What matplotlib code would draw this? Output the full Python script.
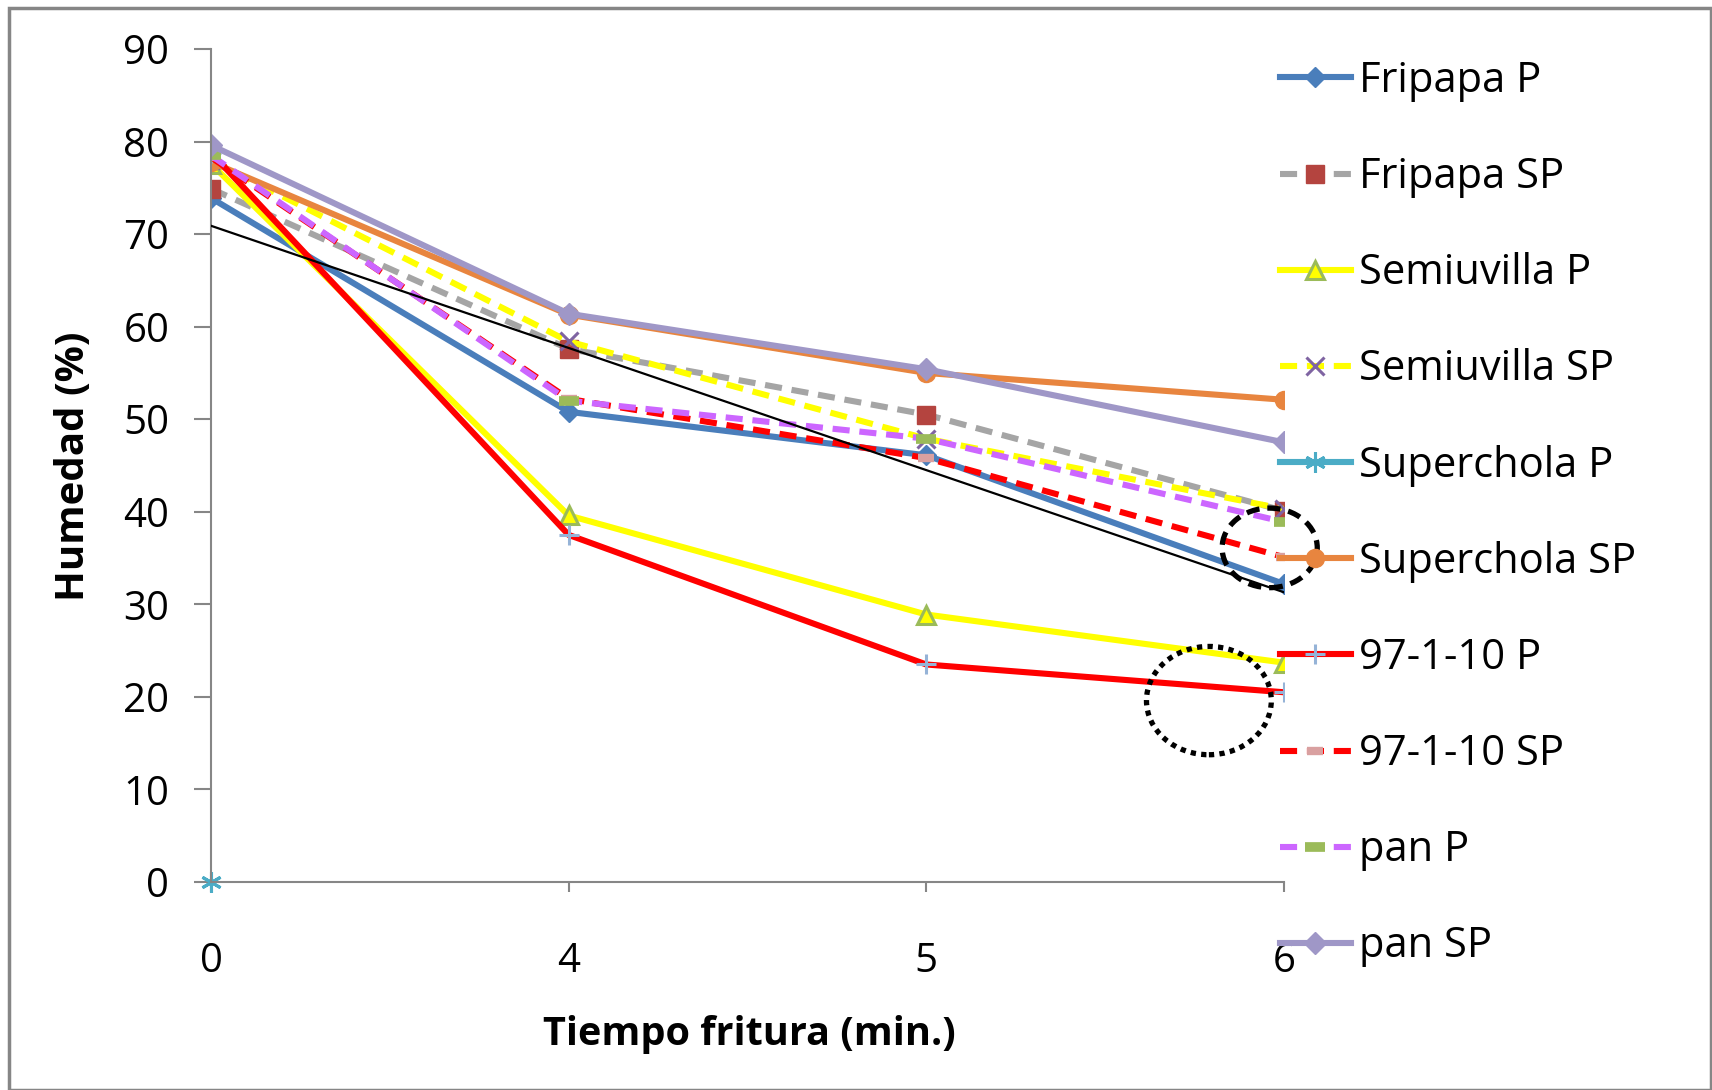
import numpy as np
import matplotlib
matplotlib.use("Agg")
import matplotlib.pyplot as plt
from matplotlib.patches import Ellipse, Rectangle

# Data
categories = ["0", "4", "5", "6"]
fripapa_p = [73.9, 50.8, 46.1, 32.2]
fripapa_sp = [74.9, 57.6, 50.5, 40.1]
semiuvilla_p = [77.6, 39.6, 28.9, 23.7]
semiuvilla_sp = [78.0, 58.4, 47.9, 40.3]
superchola_p = [0.0, np.nan, np.nan, np.nan]
superchola_sp = [77.8, 61.3, 55.0, 52.1]
p97_p = [78.8, 37.5, 23.5, 20.5]
p97_sp = [78.3, 52.2, 45.8, 35.1]
pan_p = [78.5, 52.0, 47.9, 38.9]
pan_sp = [79.6, 61.4, 55.4, 47.5]
trend_y = [70.9, 31.3]  # linear trend line drawn over Fripapa P

plt.rcParams['font.family'] = ['Open Sans', 'DejaVu Sans']

fig = plt.figure(figsize=(17.12, 10.9), dpi=100)
ax = fig.add_axes([211/1712, 1 - 882/1090, 1073/1712, 833/1090])

x = np.arange(len(categories))
lw = 4.4
dash = (2.8, 1.6)

ax.plot(x, fripapa_p, color='#4A7EBB', lw=lw, marker='D', ms=10,
        mfc='#4A7EBB', mec='#4A7EBB', label='Fripapa P')
ax.plot(x, fripapa_sp, color='#A5A5A5', lw=lw, dashes=dash, marker='s', ms=13,
        mfc='#B4443F', mec='#B4443F', label='Fripapa SP')
ax.plot(x, semiuvilla_p, color='#FFFF00', lw=lw, marker='^', ms=13,
        mfc='#FFFF00', mec='#9BBB59', mew=2.2, label='Semiuvilla P')
ax.plot(x, semiuvilla_sp, color='#FFFF00', lw=lw, dashes=dash, marker='x', ms=13,
        mec='#7F64A2', mew=2.2, label='Semiuvilla SP')
ax.plot(x, superchola_p, color='#4BACC6', lw=lw, marker=(6, 2, 0), ms=15,
        mec='#4BACC6', mew=2.2, label='Superchola P', clip_on=False)
ax.plot(x, superchola_sp, color='#E8853F', lw=lw, marker='o', ms=13,
        mfc='#E8853F', mec='#E8853F', label='Superchola SP')
ax.plot(x, p97_p, color='#FF0000', lw=lw, marker='+', ms=15,
        mec='#95B3D7', mew=2.2, label='97-1-10 P')
ax.plot(x, p97_sp, color='#FF0000', lw=lw, dashes=dash, marker='_', ms=12,
        mec='#D9A0A0', mew=6, label='97-1-10 SP')
ax.plot(x, pan_p, color='#CC66FF', lw=lw, dashes=dash, marker='_', ms=15,
        mec='#9BBB59', mew=7, label='pan P')
ax.plot(x, pan_sp, color='#9F97C7', lw=lw, marker='D', ms=11,
        mfc='#9F97C7', mec='#9F97C7', label='pan SP')

# Trend line
ax.plot([x[0], x[-1]], trend_y, color='black', lw=1.6, zorder=5)

# Highlight ellipses
ax.add_patch(Ellipse((2.96, 36.1), 0.266, 8.6, fill=False, ec='black', lw=3.8,
                     ls=(0, (2.5, 1.5)), zorder=6, clip_on=False))
ax.add_patch(Ellipse((2.79, 19.6), 0.349, 11.7, fill=False, ec='black', lw=3.8,
                     ls=(0, (1, 1)), zorder=6, clip_on=False))

ax.set_xlim(0, 3)
ax.set_ylim(0, 90)
ax.set_yticks(np.arange(0, 91, 10))
ax.set_xticks(x)
ax.set_xticklabels(categories)

for s in ['top', 'right']:
    ax.spines[s].set_visible(False)
for s in ['left', 'bottom']:
    ax.spines[s].set_color('#868686')
    ax.spines[s].set_linewidth(1.5)
ax.tick_params(axis='y', direction='out', length=12, width=1.5, color='#868686',
               labelsize=29, pad=18)
ax.tick_params(axis='x', direction='out', length=7, width=1.5, color='#868686',
               labelsize=29, pad=36)

fig.text(74/1712, 1 - 466/1090, 'Humedad (%)', rotation=90, ha='center', va='center',
         fontsize=29, fontweight='bold')
fig.text(749/1712, 1 - 1034/1090, 'Tiempo fritura (min.)', ha='center', va='center',
         fontsize=28.5, fontweight='bold')

fig.legend(loc='upper left', bbox_to_anchor=(1280/1712, 1 - 60/1090), frameon=False,
           fontsize=30, handlelength=1.7, handletextpad=0.2, labelspacing=1.3,
           borderpad=0, borderaxespad=0, numpoints=1)

# Outer chart border
fig.patches.append(Rectangle((9/1712, 0), 1 - 10/1712, 1 - 8/1090, transform=fig.transFigure,
                             fill=False, ec='#868686', lw=2.5))

fig.savefig('out.png', dpi=100)
